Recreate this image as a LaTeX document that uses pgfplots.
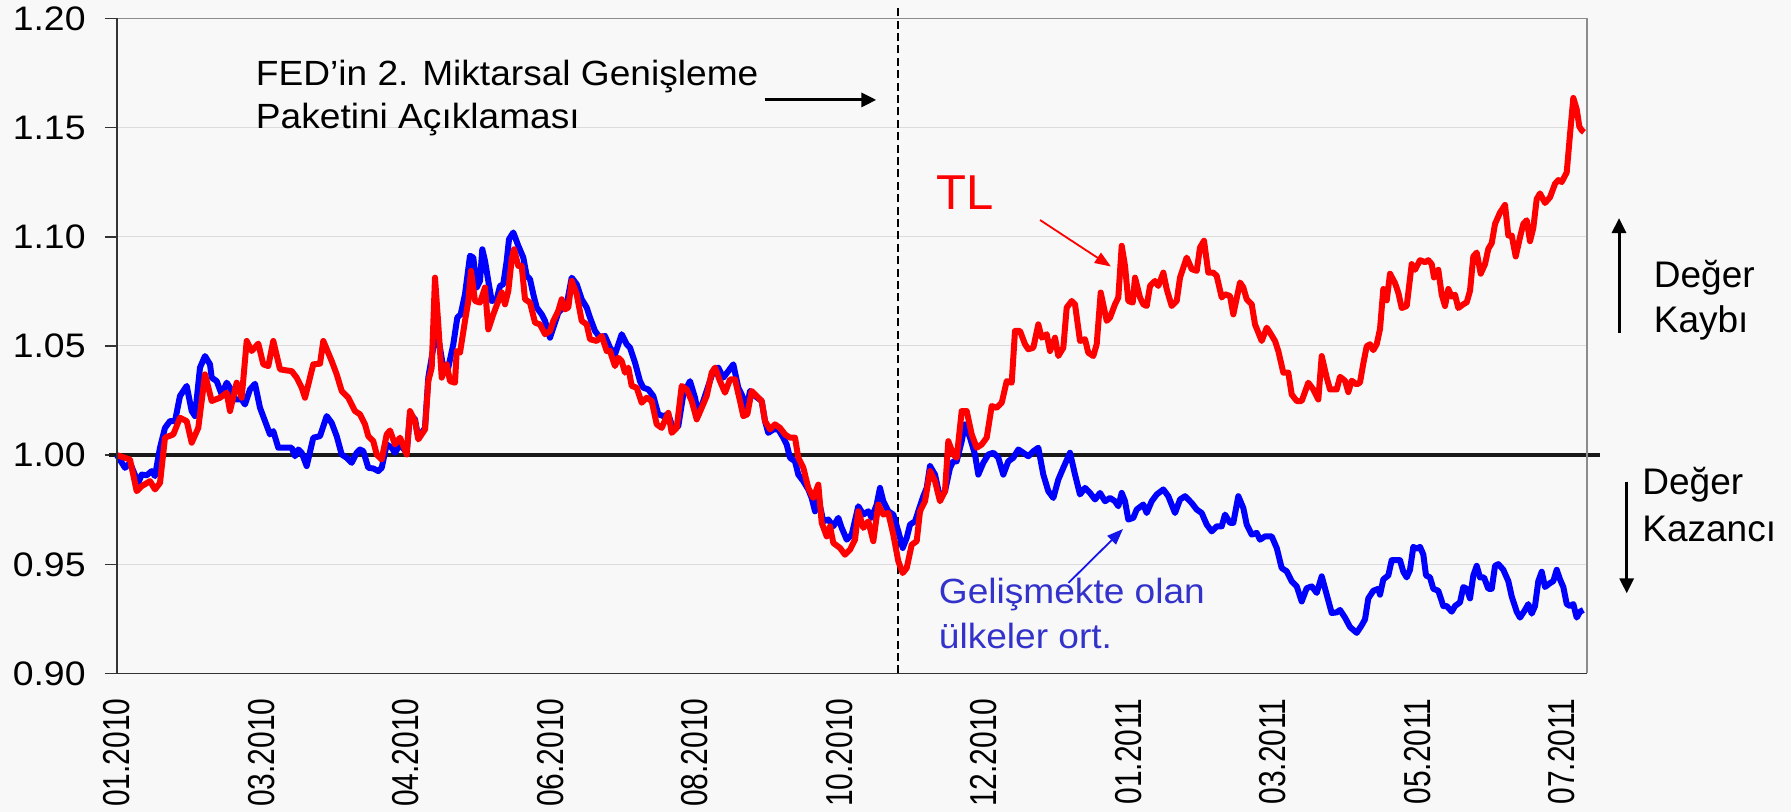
\documentclass[border=0pt]{standalone}
\usepackage{graphicx}
\usepackage{pgfplots}
\pgfplotsset{compat=1.18}
\usepackage{fontspec}
\setmainfont{Liberation Sans}
\newfontfamily\tickfont[FakeStretch=1.1]{Liberation Sans}
\newfontfamily\annfont[FakeStretch=1.06]{Liberation Sans}
\usetikzlibrary{arrows.meta}
\definecolor{bg}{RGB}{248,248,248}
\definecolor{gridc}{RGB}{220,220,220}
\definecolor{bordergray}{RGB}{140,140,140}
\definecolor{annblue}{RGB}{51,51,204}
\definecolor{arrblue}{RGB}{20,20,235}
\begin{document}
\begin{tikzpicture}
\fill[bg] (-58.5pt,-69.25pt) rectangle (837pt,336.75pt);
\begin{axis}[
  at={(0,0)}, anchor=south west,
  scale only axis, width=735pt, height=327.5pt,
  xmin=117, xmax=1587, ymin=0.9, ymax=1.2,
  clip=false,
  axis line style={draw=none},
  ymajorgrids, grid style={gridc, line width=0.5pt},
  ytick={0.9,0.95,1.0,1.05,1.1,1.15,1.2},
  yticklabels={0.90,0.95,1.00,1.05,1.10,1.15,1.20},
  xtick={117,261.5,406,550.5,695,839.5,984,1128.5,1273,1417.5,1562},
  xticklabels={01.2010,03.2010,04.2010,06.2010,08.2010,10.2010,12.2010,01.2011,03.2011,05.2011,07.2011},
  tick align=outside, major tick length=6pt,
  ytick pos=left, xtick pos=bottom,
  ytick style={black!80, line width=0.7pt},
  xtick style={draw=none},
  yticklabel style={font=\tickfont\fontsize{17}{17}\selectfont, anchor=east, inner sep=0pt},
  xticklabel style={font=\fontsize{15}{15}\selectfont, rotate=90, yscale=1.25, anchor=east, inner sep=0pt},
  yticklabel shift=9.5pt,
  xticklabel shift=6.25pt,
]
\draw[line width=2pt, black!90] (axis cs:109,1) -- (axis cs:1600,1);
\draw[black, line width=0.75pt, dash pattern=on 4pt off 2.2pt] (axis cs:898,0.9) -- (axis cs:898,1.2048);

\addplot[blue, line width=3pt, line join=round, no markers] coordinates {
(117,1.000)(125,0.9942)(130,0.9965)(138.3,0.9873)(141.7,0.9911)(146.7,0.9908)(151.7,0.9927)(155,0.9904)(160,1.0034)(165,1.0125)(170,1.0156)(175,1.0156)(180,1.0271)(186.7,1.0317)(191.7,1.0202)(195,1.0179)(200,1.0401)(205,1.0454)(210,1.0416)(211.7,1.0355)(216.7,1.0339)(221.7,1.0278)(226.7,1.0332)(230,1.0309)(235,1.0255)(241.7,1.0255)(245,1.0232)(250,1.0301)(255,1.0327)(260,1.0217)(265,1.0156)(270,1.0095)(273.3,1.0110)(278.3,1.0034)(283.3,1.0034)(291.7,1.0034)(295,0.9995)(298.3,1.0026)(301.7,1.0011)(306.7,0.9950)(313.3,1.0080)(320,1.0087)(326.7,1.0179)(331.7,1.0148)(336.7,1.0087)(341.7,1.0003)(346.7,0.9988)(351.7,0.9965)(356.7,1.0011)
(360,1.0026)(363.3,1.0018)(368.3,0.9942)(373.3,0.9939)(378.3,0.9927)(381.7,0.9942)(386.7,1.0049)(391.7,1.0034)(395,1.0011)(400,1.0049)(406.7,1.0011)(410,1.0187)(415,1.0164)(418.3,1.0080)(425,1.0125)(428.3,1.0355)(433.3,1.0492)(438.3,1.0538)(443.3,1.0401)(448.3,1.0401)(453.3,1.0508)(457.3,1.0630)(460.7,1.0645)(465,1.0737)(470,1.0913)(473.3,1.0905)(476.7,1.0768)(480,1.0798)(482.3,1.0943)(485,1.0890)(488.3,1.0798)(491.7,1.0706)(496.7,1.0714)(500,1.0775)(503.3,1.0783)(506.7,1.0890)(509,1.0989)(513.3,1.1020)(518.3,1.0959)(523.3,1.0905)(526.7,1.0821)(530,1.0806)(533.3,1.0737)(536.7,1.0676)(541.7,1.0645)(545,1.0615)(550,1.0538)(553.3,1.0584)(558.3,1.0653)(563.3,1.0676)(566.7,1.0691)(571.7,1.0813)(576.7,1.0783)(581.7,1.0714)(586.7,1.0676)(590,1.0630)(595,1.0569)(600,1.0538)(605,1.0546)
(610,1.0492)(615,1.0462)(621.7,1.0554)(626.7,1.0508)(630,1.0492)(635,1.0424)(640,1.0339)(643.3,1.0309)(648.3,1.0301)(653.3,1.0271)(658.3,1.0187)(663.3,1.0179)(668.3,1.0187)(673.3,1.0118)(678.3,1.0133)(683.3,1.0278)(690,1.0339)(695,1.0263)(698.3,1.0187)(703.3,1.0248)(708.3,1.0317)(713.3,1.0385)(718.3,1.0401)(723.3,1.0355)(728.3,1.0385)(733.3,1.0416)(738.3,1.0309)(741.7,1.0278)(746.7,1.0217)(750,1.0294)(755,1.0271)(761.7,1.0248)(765,1.0156)(768.3,1.0102)(773.3,1.0118)(778.3,1.0118)(783.3,1.0080)(786.7,1.0049)(790,0.9988)(795,0.9972)(798.3,0.9911)(803.3,0.9881)(808.3,0.9843)(811.7,0.9804)(815,0.9743)(818.3,0.9804)(823.3,0.9697)(828.3,0.9705)(833.3,0.9674)(838.3,0.9713)(841.7,0.9667)(846.7,0.9613)(851.7,0.9636)(858.3,0.9766)
(863.3,0.9728)(868.3,0.9743)(871.7,0.9713)(876.7,0.9774)(880,0.9850)(883.3,0.9789)(888.3,0.9743)(893.3,0.9728)(898.3,0.9651)(902.7,0.9575)(906.7,0.9621)(910,0.9682)(915,0.9697)(918.3,0.9743)(923.3,0.9812)(926.7,0.9850)(930,0.9950)(935,0.9911)(940,0.9804)(945,0.9835)(950,0.9942)(953.3,0.9972)(956.7,0.9972)(961.7,1.0064)(965,1.0141)(970,1.0080)(975,1.0003)(978.3,0.9911)(983.3,0.9965)(988.3,1.0003)(993.3,1.0011)(998.3,0.9988)(1003.3,0.9911)(1008.3,0.9972)(1013.3,0.9988)(1018.3,1.0026)(1023.3,1.0011)(1028.3,0.9995)(1033.3,1.0018)(1038.3,1.0034)(1043.3,0.9911)(1048.3,0.9835)(1053.3,0.9804)(1058.3,0.9888)(1063.3,0.9942)(1070,1.0011)(1075,0.9911)(1080,0.9820)(1085,0.9850)(1090,0.9827)(1095,0.9797)(1100,0.9827)(1105,0.9789)
(1110,0.9804)(1115,0.9789)(1118.3,0.9766)(1121.7,0.9827)(1125,0.9789)(1128.3,0.9705)(1133.3,0.9713)(1136.7,0.9751)(1143.3,0.9774)(1146.7,0.9735)(1151.7,0.9789)(1156.7,0.9820)(1163.3,0.9843)(1168.3,0.9812)(1175,0.9735)(1180,0.9797)(1185,0.9812)(1191.7,0.9781)(1196.7,0.9751)(1201.7,0.9735)(1206.7,0.9682)(1211.7,0.9651)(1216.7,0.9674)(1221.7,0.9674)(1225,0.9728)(1230,0.9690)(1233.3,0.9690)(1238.3,0.9812)(1243.3,0.9758)(1246.7,0.9682)(1251.7,0.9636)(1256.7,0.9644)(1260,0.9613)(1265,0.9628)(1271.7,0.9628)(1276.7,0.9575)(1281.7,0.9483)(1286.7,0.9468)(1291.7,0.9422)(1296.7,0.9399)(1301.7,0.9330)(1306.7,0.9391)(1311.7,0.9399)(1316.7,0.9369)(1321.7,0.9445)(1326.7,0.9361)(1331.7,0.9277)(1336.7,0.9280)
(1340,0.9291)(1345,0.9256)(1350,0.9213)(1356.7,0.9186)(1361.7,0.9221)(1365,0.9248)(1368.3,0.9344)(1373.3,0.9379)(1378.3,0.9388)(1380,0.9361)(1383.3,0.9431)(1388.3,0.9449)(1391.7,0.9519)(1396.7,0.9519)(1400,0.9519)(1403.3,0.9466)(1406.7,0.9440)(1410,0.9475)(1413.3,0.9580)(1416.7,0.9571)(1420,0.9580)(1423.3,0.9545)(1426,0.9449)(1430,0.9440)(1433.3,0.9388)(1438.3,0.9379)(1443.3,0.9309)(1446.7,0.9309)(1451.7,0.9283)(1455,0.9309)(1460,0.9326)(1463.3,0.9396)(1466.7,0.9388)(1470,0.9344)(1473.3,0.9449)(1476.7,0.9493)(1480,0.9440)(1484,0.9440)(1488.3,0.9388)(1491.7,0.9388)(1495,0.9493)(1498.3,0.9501)(1503.3,0.9475)(1508.3,0.9423)(1511.7,0.9353)(1516.7,0.9283)(1520,0.9256)(1525,0.9291)(1528.3,0.9318)(1531.7,0.9274)(1535,0.9309)(1538.3,0.9423)(1541.7,0.9466)(1545,0.9396)(1550,0.9414)(1553.3,0.9423)(1556.7,0.9475)(1560,0.9431)(1563.3,0.9396)(1566.7,0.9318)(1570,0.9309)(1573.3,0.9318)(1576.7,0.9256)(1580,0.9283)(1583.3,0.9291)
};

\addplot[red, line width=3pt, line join=round, no markers] coordinates {
(117,1.000)(130,0.998)(136.7,0.9835)(141.7,0.9858)(150,0.9881)(155,0.9843)(160,0.9873)(165,1.0080)(173.3,1.0095)(180,1.0171)(186.7,1.0156)(191.7,1.0057)(198.3,1.0125)(205,1.0370)(211.7,1.0248)(220,1.0263)(226.7,1.0286)(230,1.0202)(236.7,1.0332)(241.7,1.0263)(246.7,1.0523)(251.7,1.0477)(258.3,1.0511)(263.3,1.0416)(268.3,1.0408)(273.3,1.0523)(280,1.0393)(286.7,1.0388)(291.7,1.0385)(296.7,1.0355)(301.7,1.0309)(305,1.0263)(313.3,1.0416)(320,1.0419)(323.3,1.0523)(331.7,1.0431)(336.7,1.0370)(341.7,1.0294)(348.3,1.0263)(355,1.0202)
(360,1.0187)(365,1.0141)(368.3,1.0087)(373.3,1.0064)(376.7,1.0003)(381.7,0.9980)(386.7,1.0095)(390,1.0113)(395,1.0049)(400,1.0080)(406.7,1.0003)(410,1.0202)(415,1.0156)(418.3,1.0072)(425,1.0118)(428.3,1.0339)(431.7,1.0401)(435,1.0813)(438.3,1.0599)(441.7,1.0355)(446.7,1.0416)(450,1.0339)(455,1.0332)(456.7,1.0477)(460,1.0469)(465,1.0615)(468.3,1.0706)(471,1.0844)(475,1.0706)(480,1.0699)(485,1.0768)(488.3,1.0576)(493.3,1.0645)(498.3,1.0706)(501.7,1.0745)(505,1.0691)(508.3,1.0752)(511.7,1.0898)(514,1.0943)(518.3,1.0867)(521.7,1.0867)(525,1.0714)(530,1.0699)(535,1.0607)(540,1.0599)(545,1.0554)(550,1.0569)(553.3,1.0615)(558.3,1.0661)(561.7,1.0714)(565,1.0668)(568.3,1.0676)(571.7,1.0798)(576.7,1.0737)(581.7,1.0615)(586.7,1.0599)(590,1.0531)(596.7,1.0523)(601.7,1.0546)(606.7,1.0477)
(610,1.0477)(615,1.0408)(618.3,1.0446)(621.7,1.0431)(625,1.0378)(628.3,1.0401)(631.7,1.0317)(636.7,1.0309)(641.7,1.0240)(646.7,1.0263)(651.7,1.0248)(656.7,1.0141)(661.7,1.0125)(668.3,1.0194)(671.7,1.0102)(676.7,1.0125)(681.7,1.0317)(686.7,1.0301)(691.7,1.0248)(696.7,1.0164)(701.7,1.0217)(706.7,1.0271)(711.7,1.0378)(715,1.0401)(720,1.0339)(725,1.0286)(730,1.0347)(735,1.0347)(740,1.0248)(743.3,1.0179)(747.3,1.0187)(751.7,1.0294)(756.7,1.0271)(761.7,1.0248)(765,1.0156)(770,1.0118)(775,1.0141)(780,1.0125)(785,1.0095)(790,1.0080)(795,1.0080)(798.3,0.9988)(803.3,0.9942)(808.3,0.9850)(813.3,0.9804)(818.3,0.9865)(821.7,0.9690)(826.7,0.9628)(830,0.9674)(833.3,0.9598)(840,0.9575)(845,0.9544)(850,0.9567)(855,0.9613)(858.3,0.9743)
(863.3,0.9667)(868.3,0.9697)(873.3,0.9606)(878.3,0.9774)(883.3,0.9728)(888.3,0.9735)(893.3,0.9636)(898.3,0.9514)(902.7,0.9460)(906.7,0.9483)(911.7,0.9590)(916.7,0.9606)(920,0.9743)(925,0.9789)(930,0.9927)(935,0.9881)(940,0.9789)(945,0.9835)(948.3,1.0064)(953.3,1.0003)(956.7,0.9988)(961.7,1.0202)(966.7,1.0202)(971.7,1.0095)(976.7,1.0034)(981.7,1.0049)(986.7,1.0080)(991.7,1.0225)(996.7,1.0217)(1001.7,1.0240)(1006.7,1.0339)(1011.7,1.0332)(1015,1.0569)(1020,1.0569)(1025,1.0508)(1028.3,1.0485)(1033.3,1.0492)(1038.3,1.0599)(1041.7,1.0538)(1046.7,1.0554)(1050,1.0477)(1055,1.0538)(1058.3,1.0454)(1063.3,1.0492)(1066.7,1.0676)(1071.7,1.0706)(1075,1.0691)(1080,1.0523)(1085,1.0531)(1088.3,1.0469)(1093.3,1.0454)(1096.7,1.0508)(1100.7,1.0745)(1106.7,1.0615)
(1110,1.0630)(1115,1.0691)(1118.3,1.0722)(1121.7,1.0959)(1125,1.0867)(1128.3,1.0706)(1132.7,1.0699)(1135,1.0813)(1140,1.0722)(1143.3,1.0691)(1146.7,1.0683)(1150,1.0775)(1155,1.0798)(1158.3,1.0775)(1163.3,1.0836)(1166.7,1.0760)(1171.7,1.0683)(1176.7,1.0706)(1180,1.0813)(1186.7,1.0905)(1191.7,1.0852)(1196.7,1.0844)(1200,1.0951)(1204,1.0982)(1208.3,1.0836)(1213.3,1.0836)(1216.7,1.0821)(1221.7,1.0722)(1225,1.0737)(1230,1.0729)(1233.3,1.0645)(1240,1.0791)(1243.3,1.0768)(1246.7,1.0714)(1251.7,1.0691)(1255,1.0599)(1261.7,1.0523)(1266.7,1.0584)(1270,1.0561)(1275,1.0523)(1278.3,1.0477)(1283.3,1.0378)(1288.3,1.0378)(1291.7,1.0278)(1296.7,1.0248)(1301.7,1.0248)(1308.3,1.0332)(1313.3,1.0301)(1318.3,1.0255)(1321.7,1.0454)(1326.7,1.0355)(1330,1.0301)(1336.7,1.0301)
(1340,1.0359)(1345,1.0341)(1348.3,1.0289)(1351.7,1.0341)(1356.7,1.0324)(1360,1.0333)(1363.3,1.0420)(1366.7,1.0499)(1370,1.0508)(1373.3,1.0481)(1376.7,1.0508)(1380,1.0578)(1383.3,1.0761)(1386.7,1.0709)(1390,1.0831)(1395,1.0788)(1398.3,1.0744)(1401.7,1.0674)(1406.7,1.0683)(1411.7,1.0875)(1415,1.0849)(1420,1.0893)(1425,1.0884)(1428.3,1.0893)(1431.7,1.0875)(1434,1.0814)(1438.3,1.0849)(1441.7,1.0735)(1445,1.0683)(1448.3,1.0761)(1451.7,1.0726)(1455,1.0735)(1458.3,1.0674)(1463.3,1.0691)(1466.7,1.0700)(1470,1.0753)(1473.3,1.0910)(1476.7,1.0928)(1480.7,1.0831)(1485,1.0875)(1488.3,1.0945)(1491.7,1.0971)(1495,1.1059)(1500,1.1111)(1505,1.1146)(1508.3,1.1006)(1511.7,1.1006)(1515.7,1.0910)(1520,1.0998)(1523.3,1.1059)(1526.7,1.1076)(1530,1.0980)(1533.3,1.1041)(1536.7,1.1173)(1540,1.1199)(1545,1.1155)(1550,1.1181)(1555,1.1243)(1558.3,1.1260)(1561.7,1.1251)(1566.7,1.1295)(1570,1.1470)(1573.3,1.1636)(1576.7,1.1584)(1579.3,1.1505)(1581.7,1.1488)(1584,1.1479)
};

% borders
\draw[bordergray, line width=0.7pt] (rel axis cs:0,1) -- (rel axis cs:1,1) -- (rel axis cs:1,0);
\draw[black!80, line width=0.7pt] (rel axis cs:0,1) -- (rel axis cs:0,0) -- (rel axis cs:1,0);

% annotations
\node[anchor=base west, inner sep=0pt, font=\annfont\fontsize{17.5}{21}\selectfont] at (axis cs:255.6,1.1695) {FED’in 2. Miktarsal Genişleme};
\node[anchor=base west, inner sep=0pt, font=\annfont\fontsize{17.5}{21}\selectfont] at (axis cs:255.6,1.1497) {Paketini Açıklaması};
\draw[black, line width=1.5pt, -{Triangle[length=7.5pt,width=7pt]}] (axis cs:764.6,1.1627) -- (axis cs:876.3,1.1627);

\node[anchor=base west, inner sep=0pt, text=red, font=\fontsize{24.5}{28}\selectfont] at (axis cs:936,1.1123) {TL};
\draw[red, line width=0.9pt, -{Triangle[length=8pt,width=6pt]}] (axis cs:1040,1.1077) -- (axis cs:1110.9,1.0864);

\node[anchor=base west, inner sep=0pt, text=annblue, font=\annfont\fontsize{17.5}{21}\selectfont] at (axis cs:938.5,0.9322) {Gelişmekte olan};
\node[anchor=base west, inner sep=0pt, text=annblue, font=\annfont\fontsize{17.5}{21}\selectfont] at (axis cs:938.5,0.9115) {ülkeler ort.};
\draw[arrblue, line width=0.9pt, -{Triangle[length=8pt,width=6pt]}] (axis cs:1068.5,0.9415) -- (axis cs:1123,0.9662);

\draw[black, line width=1.5pt, -{Triangle[length=7.5pt,width=7pt]}] (axis cs:1619,1.0560) -- (axis cs:1619,1.1086);
\node[anchor=base west, inner sep=0pt, font=\fontsize{18.5}{21}\selectfont] at (axis cs:1653.5,1.0766) {Değer};
\node[anchor=base west, inner sep=0pt, font=\fontsize{18.5}{21}\selectfont] at (axis cs:1653.5,1.0560) {Kaybı};

\draw[black, line width=1.5pt, -{Triangle[length=7.5pt,width=7pt]}] (axis cs:1626.7,0.9879) -- (axis cs:1626.7,0.9367);
\node[anchor=base west, inner sep=0pt, font=\fontsize{18.5}{21}\selectfont] at (axis cs:1642,0.9818) {Değer};
\node[anchor=base west, inner sep=0pt, font=\fontsize{18.5}{21}\selectfont] at (axis cs:1642,0.9604) {Kazancı};
\end{axis}
\pgfresetboundingbox
\path (-58.5pt,-69.25pt) rectangle (837pt,336.75pt);
\end{tikzpicture}
\end{document}
